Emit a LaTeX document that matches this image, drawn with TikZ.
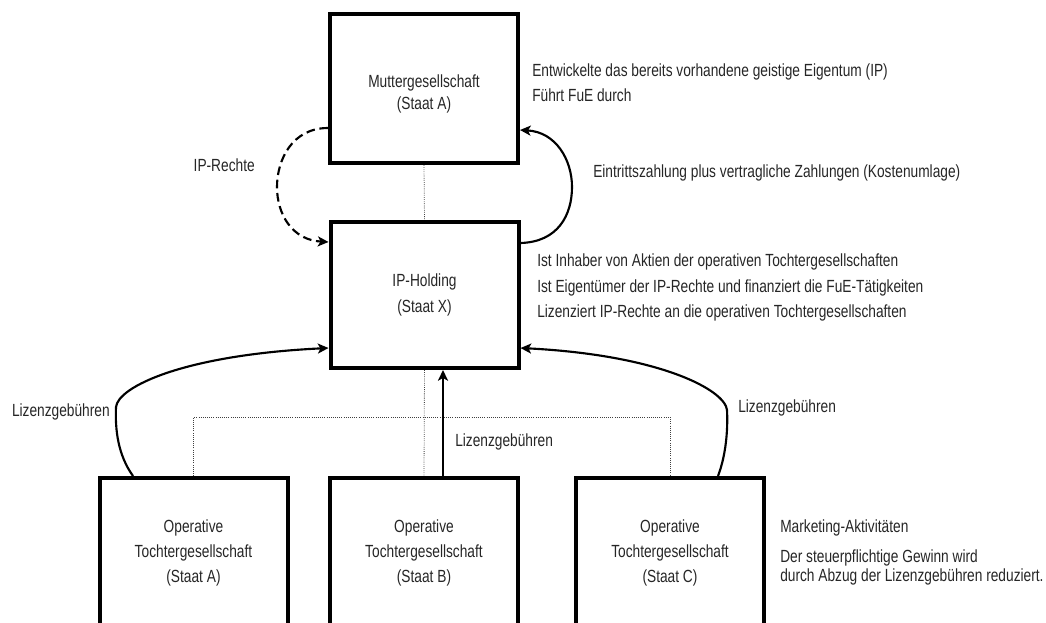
\documentclass[tikz,border=0pt]{standalone}
\usepackage{fontspec}
\setmainfont{Liberation Sans}[FakeStretch=0.78]
\usetikzlibrary{arrows.meta,calc}

\begin{document}
\begin{tikzpicture}[x=0.75pt,y=-0.75pt,
  font=\fontsize{13.2pt}{18.9pt}\selectfont,
  box/.style={draw, line width=3pt, minimum width=141pt, align=center,
    inner sep=0pt, text=black!85},
  boxtext/.style={align=center, inner sep=0pt, text=black!85},
  flow/.style={line width=1.6pt,
    -{Stealth[length=8pt,width=7.5pt,inset=2pt]}},
  link/.style={densely dotted, line width=0.6pt, black!75},
  note/.style={align=left, inner sep=0pt, text=black!85}]
\useasboundingbox (0,0) rectangle (1046,622);
\clip (0,0) rectangle (1046,622);

% companies
\node[box, minimum height=111.75pt] (mutter) at (424,88.5) {};
\node[boxtext, font=\fontsize{13.2pt}{16.8pt}\selectfont] (mutterLbl)
  at (424,94) {Muttergesellschaft\\(Staat A)};
\node[box, minimum height=109.5pt] (hold) at (424.5,295)
  {IP-Holding\\(Staat X)};
\node[box, minimum height=112.5pt] (opA) at (193.5,553)
  {Operative\\Tochtergesellschaft\\(Staat A)};
\node[box, minimum height=112.5pt] (opB) at (424,553)
  {Operative\\Tochtergesellschaft\\(Staat B)};
\node[box, minimum height=112.5pt] (opC) at (670,553)
  {Operative\\Tochtergesellschaft\\(Staat C)};

% ownership structure
\coordinate (bus) at (424,417);
\draw[link] (mutter.south) -- (hold.north);
\draw[link] (hold.south) -- (opB.north);
\draw[link] (opA.north) |- (bus) -| (opC.north);

% IP rights transfer
\draw[flow, dash pattern=on 6.5pt off 3.5pt]
  ($(mutter.west)+(0,39.5)$) .. controls (292,128) and (277,160) .. (277,187)
  .. controls (277,214) and (292,240) .. ($(hold.west)+(0,-53)$);
% buy-in and cost contribution payments
\draw[flow]
  ($(hold.east)+(0,-52)$) .. controls (558,242) and (572,215) .. (572,187)
  .. controls (572,160) and (556,132) .. ($(mutter.east)+(0,41.5)$);
% royalties
\draw[flow]
  ($(opA.north)+(-60.5,0)$) .. controls (118,455) and (115,430) .. (116,407)
  .. controls (118,387) and (183,355) .. ($(hold.west)+(0,53)$);
\draw[flow]
  ($(opB.north)+(19,0)$) -- ($(hold.south)+(18.5,0)$);
\draw[flow]
  ($(opC.north)+(48,0)$) .. controls (726,455) and (728,430) .. (727,410)
  .. controls (725,390) and (660,355) .. ($(hold.east)+(0,53)$);

% labels
\node[note, anchor=east] (lblIP) at (255,165) {IP-Rechte};
\node[note, anchor=east] (lblA) at (110,412) {Lizenzgebühren};
\node[note, anchor=west] (lblB) at (455,442) {Lizenzgebühren};
\node[note, anchor=west] (lblC) at (738,408) {Lizenzgebühren};
\node[note, anchor=west] (lblPay) at (593,173)
  {Eintrittszahlung plus vertragliche Zahlungen (Kostenumlage)};

% descriptions
\node[note, anchor=west] (dMutter) at (532,82.5)
  {Entwickelte das bereits vorhandene geistige Eigentum (IP)\\Führt FuE durch};
\node[note, anchor=west] (dHold) at (537,287.5)
  {Ist Inhaber von Aktien der operativen Tochtergesellschaften\\
   Ist Eigentümer der IP-Rechte und finanziert die FuE-Tätigkeiten\\
   Lizenziert IP-Rechte an die operativen Tochtergesellschaften};
\node[note, anchor=west] (dMkt) at (780,528) {Marketing-Aktivitäten};
\node[note, anchor=west, font=\fontsize{13.2pt}{14.4pt}\selectfont] (dTax)
  at (780,567.5)
  {Der steuerpflichtige Gewinn wird\\durch Abzug der Lizenzgebühren reduziert.};
\end{tikzpicture}
\end{document}
